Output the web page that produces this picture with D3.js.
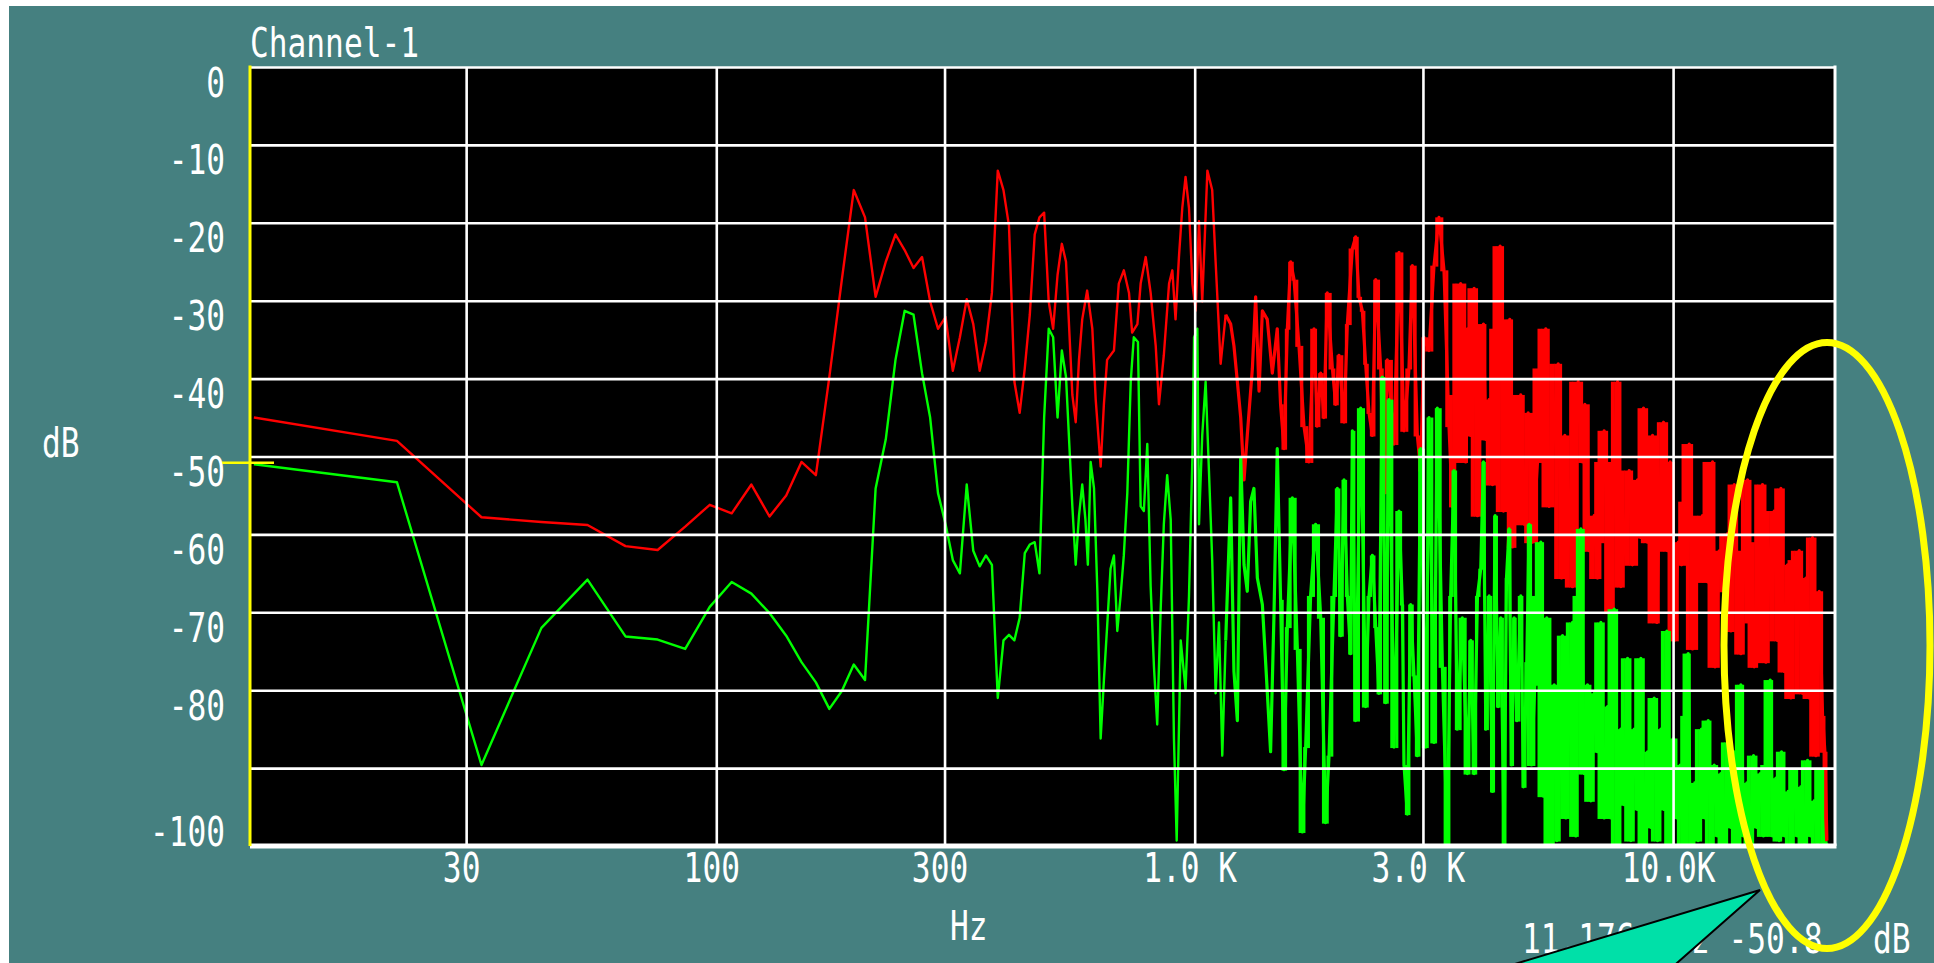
<!DOCTYPE html>
<html><head><meta charset="utf-8">
<script src="https://cdn.jsdelivr.net/npm/d3@7/dist/d3.min.js"></script>
<style>html,body{margin:0;padding:0;background:#fff;overflow:hidden}</style>
</head><body>
<svg id="c" width="1934" height="963"></svg>
<script>
// ---------- data ----------
const lowHz = [10.8,21.5,32.3,43.1,53.8,64.6,75.4,86.1,96.9,107.7,118.4,129.2,140.0,150.7,161.5,172.3,183.0,193.8,204.6,215.3,226.1,236.9,247.6,258.4,269.2,279.9,290.7,301.5,312.2,323.0,333.8,344.5,355.3,366.1,376.8,387.6,398.4,409.1,419.9,430.7,441.4,452.2,463.0,473.7,484.5,495.3,506.0,516.8,527.6,538.3];
const redLowDb = [-45.0,-48.0,-57.8,-58.4,-58.8,-61.5,-62.0,-59.0,-56.2,-57.3,-53.6,-57.7,-55.0,-50.7,-52.4,-39.8,-27.3,-15.8,-19.3,-29.5,-25.0,-21.5,-23.5,-25.8,-24.4,-30.1,-33.6,-32.1,-39.0,-34.7,-29.8,-33.0,-39.0,-35.3,-29.0,-13.3,-15.8,-20.4,-40.4,-44.4,-38.7,-31.8,-21.5,-19.3,-18.7,-30.1,-33.6,-26.7,-22.7,-25.0];
const greenLowDb = [-51.0,-53.3,-89.6,-72.0,-65.8,-73.1,-73.5,-74.7,-69.3,-66.1,-67.6,-70.1,-73.0,-76.4,-79.0,-82.4,-80.1,-76.7,-78.7,-54.1,-47.8,-37.6,-31.3,-31.8,-39.3,-45.0,-54.7,-58.7,-63.3,-65.0,-53.6,-62.1,-64.1,-62.7,-63.9,-81.0,-73.6,-72.9,-73.6,-70.7,-62.4,-61.3,-61.0,-65.0,-45.0,-33.6,-34.7,-45.0,-36.4,-39.8];

const redHiHz = [555,564,573,582,596,611,621,636,646,656,678,694,711,729,740,759,771,790,809,829,842,862,884,898,912,927,942,957,973,989,1005,1021,1037,1063,1088,1106,1133,1161,1189,1208,1228,1248,1268,1288,1320,1341,1363,1385,1418,1453,1488,1512,1537,1562,1587,1613,1652,1692,1733,1776,1804,1834,1863,1893,1940,1971,2003,2052,2085,2136,2170,2205,2241,2277,2314,2352,2390,2448,2487,2527,2610,2674,2739,2805,2851,2920,2967,3015,3089,3164,3241,3320,3401,3456,3512,3597,3685,
3716,3776,3838,3900,3963,4014,4060,4126,4193,4260,4350,4420,4491,4557,4616,4691,4805,4883,4978,5083,5207,5308,5420,5508,5642,5752,5845,5939,6064,6163,6333,6467,6540,6677,6840,6951,7063,7177,7294,7412,7532,7654,7777,7903,8096,8227,8427,8563,8674,8843,9058,9249,9353,9551,9736,9862,10054,10249,10415,10635,10806,10981,11249,11523,11803,12091,12228,12486,12790,12997,13207,13421,13638,13858,14082,14311,14543,14777,15016,15382,15631,15883,16270,16533,16801,17073,17349,17630,17915,18351,18648,18950,19256,19567,19884,20205,20533,20765,20966];
const redHiDb = [-42.1,-45.6,-37.6,-32.4,-28.7,-33.6,-42.7,-51.3,-43.3,-37.6,-36.4,-27.8,-26.1,-29.0,-34.1,-33.0,-27.8,-24.4,-29.0,-35.8,-43.3,-37.0,-27.8,-26.1,-32.4,-24.4,-18.1,-14.1,-18.1,-27.8,-31.3,-19.8,-30.1,-13.3,-15.8,-25.0,-38.1,-31.8,-33.0,-35.8,-40.4,-45.0,-53.0,-47.3,-38.7,-29.5,-41.6,-31.3,-32.4,-39.3,-33.6,-43.3,-49.0,-33.6,-25.0,-27.3,-35.8,-46.1,-50.7,-33.6,-46.1,-39.3,-45.0,-29.0,-38.7,-43.3,-37.0,-45.6,-33.0,-23.3,-21.8,-29.5,-31.3,-38.1,-44.4,-47.3,-27.3,-38.7,-54.7,-37.6,-48.4,-23.8,-46.7,-38.7,-25.5,-47.3,-51.8,-34.7,-36.4,-25.5,-19.3,-26.1,-46.1,-56.4,-42.1,-27.8,-50.7,
-33.6,-47.3,-28.4,-57.6,-39.3,-33.0,-47.8,-42.7,-53.6,-33.6,-23.0,-57.0,-35.3,-32.4,-61.6,-51.8,-42.1,-58.7,-44.4,-61.0,-50.7,-38.7,-33.6,-56.4,-46.1,-38.1,-65.6,-47.3,-56.4,-66.7,-40.4,-50.7,-43.3,-62.1,-57.6,-65.6,-50.7,-46.7,-61.0,-70.1,-50.7,-40.4,-66.7,-61.0,-51.8,-63.9,-53.0,-60.4,-43.8,-61.0,-47.3,-71.3,-56.4,-45.6,-62.1,-50.7,-73.6,-61.0,-63.9,-55.8,-48.4,-74.7,-59.9,-57.6,-66.1,-50.7,-77.0,-62.1,-67.3,-59.9,-72.4,-53.6,-66.1,-75.3,-62.1,-53.0,-71.3,-77.0,-61.0,-53.6,-76.4,-63.9,-57.0,-73.6,-54.1,-77.6,-63.9,-81.0,-63.3,-62.1,-80.4,-65.6,-81.0,-60.4,-88.4,-67.3,-83.3,-87.9,-99.3];

const greenHiHz = [555,564,573,582,591,598,606,616,626,636,646,656,667,678,689,700,711,723,735,746,761,771,783,796,809,822,835,849,862,876,891,905,917,935,957,973,989,997,1013,1021,1037,1054,1071,1088,1106,1124,1142,1161,1189,1208,1228,1248,1268,1288,1309,1330,1352,1385,1407,1441,1465,1488,1512,1537,1562,1600,1639,1679,1706,1747,1790,1834,1878,1909,1955,1987,2019,2052,2085,2118,2136,2170,2223,2277,2314,2352,2390,2428,2467,2507,2548,2610,2674,2717,2739,2783,2828,2874,2920,2967,3040,3089,3164,3215,3294,3374,3428,3484,3540,3626,3715,
3776,3838,3900,3963,4014,4060,4126,4193,4246,4308,4364,4435,4485,4542,4594,4653,4713,4805,4867,4945,5002,5058,5140,5207,5291,5359,5445,5552,5642,5715,5807,5873,5968,6064,6163,6262,6333,6415,6519,6624,6731,6840,6951,7063,7177,7294,7412,7532,7654,7777,7903,8031,8161,8293,8427,8563,8702,8843,8986,9131,9279,9429,9581,9705,9862,10022,10184,10349,10466,10635,10754,10859,11106,11285,11468,11653,11841,11994,12189,12386,12586,12790,12997,13207,13464,13638,13858,14037,14265,14496,14730,14968,15210,15456,15706,15960,16140,16401,16666,16855,17128,17405,17686,17915,18205,18499,18798,19102,19411,19725,20044,20304,20632,21033];
const greenHiDb = [-56.4,-63.9,-57.6,-53.6,-58.1,-63.9,-50.7,-54.1,-67.3,-86.2,-78.7,-71.9,-64.4,-62.7,-72.4,-67.9,-62.7,-54.7,-40.4,-34.7,-35.3,-56.4,-57.0,-48.4,-66.7,-77.0,-84.4,-69.6,-58.7,-52.4,-58.1,-86.2,-99.3,-73.6,-79.9,-67.9,-50.1,-34.7,-33.6,-58.7,-47.3,-40.4,-51.8,-63.3,-80.4,-71.3,-88.4,-73.6,-55.3,-77.6,-83.9,-50.1,-63.9,-67.3,-55.8,-54.1,-65.6,-69.0,-76.4,-87.9,-70.1,-49.0,-68.4,-90.2,-71.9,-55.3,-74.7,-98.2,-87.3,-67.9,-58.7,-70.7,-97.0,-88.4,-67.9,-54.1,-73.0,-53.0,-67.9,-75.3,-46.7,-83.9,-43.8,-82.1,-67.9,-62.7,-71.9,-80.4,-39.8,-81.6,-42.7,-87.3,-57.0,-69.0,-89.6,-95.9,-69.0,-78.1,-88.4,-49.0,-87.3,-45.0,-86.7,-43.8,-77.0,-99.9,-67.9,-51.8,-85.0,-70.7,-90.7,
-73.6,-90.7,-67.9,-64.4,-50.7,-85.0,-67.9,-93.0,-57.6,-82.1,-70.7,-99.9,-65.6,-59.3,-89.6,-70.7,-83.9,-67.9,-92.4,-76.4,-58.7,-89.6,-79.3,-67.9,-61.0,-93.6,-70.7,-99.9,-79.3,-99.3,-87.9,-73.0,-96.4,-82.1,-71.3,-98.7,-67.9,-59.3,-90.7,-79.3,-94.2,-80.4,-87.9,-71.3,-96.4,-82.1,-96.4,-69.6,-99.9,-85.0,-94.7,-75.9,-99.3,-85.0,-95.3,-75.9,-99.9,-87.9,-97.6,-81.0,-99.3,-85.0,-95.3,-72.4,-99.9,-86.2,-96.4,-89.6,-99.9,-83.3,-75.3,-99.9,-91.9,-99.3,-85.0,-96.4,-83.9,-99.9,-89.6,-98.7,-90.7,-99.9,-86.7,-97.6,-87.9,-99.9,-79.3,-98.7,-91.9,-99.9,-88.4,-97.6,-90.7,-98.7,-89.6,-78.7,-98.7,-91.3,-99.3,-87.9,-98.7,-93.0,-99.9,-90.2,-98.7,-92.4,-99.6,-89.0,-98.7,-94.2,-99.6,-90.2,-99.6,-99.6];

const xTickHz = [30,100,300,1000,3000,10000];
const xTickLabels = ["30","100","300","1.0 K","3.0 K","10.0K"];
const yGridDb = [0,-10,-20,-30,-40,-50,-60,-70,-80,-90];
const yLabelDb = [0,-10,-20,-30,-40,-50,-60,-70,-80,-100];
const cursorDb = -50.8;
const title = "Channel-1";
const readoutText = "11.176 kHz -50.8";

// ---------- layout ----------
const W = 1934, H = 963;
const L = 250, R = 1835, T = 67, B = 846;
const TEAL = "#458080";
const FONT = "'DejaVu Sans Mono', monospace";
const FS = 40, SX = 0.78;
const DENSE_FROM = 1150;   // Hz: thicker trace above this
// column-run fill: [fromHz, solidFromHz] – partial-width runs between, full-width (3-sample) runs above
const RED_RUNS = [1500, 3400];
const GREEN_RUNS = [1500, 4900];

const svg = d3.select("#c");
svg.append("rect").attr("width", W).attr("height", H).attr("fill", "#fff");
svg.append("rect").attr("x", 9).attr("y", 6).attr("width", W - 9).attr("height", H - 6).attr("fill", TEAL);

const x = d3.scaleLog().domain([10.6, 21800]).range([L, R]);
const y = d3.scaleLinear().domain([0, -100]).range([T, B]);
const yc = v => y(Math.max(-100, v));

svg.append("rect").attr("x", L).attr("y", T).attr("width", R - L).attr("height", B - T).attr("fill", "#000");

svg.append("defs").append("clipPath").attr("id", "pc")
  .append("rect").attr("x", L).attr("y", T - 1).attr("width", R - L).attr("height", B - T + 3);

function series(hzA, dbA, hz2, db2) {
  const a = hzA.map((h, i) => [h, dbA[i]]);
  const b = hz2.map((h, i) => [h, db2[i]]);
  return a.concat(b);
}
const redData = series(lowHz, redLowDb, redHiHz, redHiDb);
const greenData = series(lowHz, greenLowDb, greenHiHz, greenHiDb);

const line = d3.line().x(d => x(d[0])).y(d => yc(d[1]));
const dataG = svg.append("g").attr("clip-path", "url(#pc)");

function drawSeries(data, color, runs) {
  const segs = [];
  for (let i = 0; i < data.length - 1; i++) {
    const p = data[i], n = data[i + 1];
    if (p[0] < runs[0]) continue;
    const solid = p[0] >= runs[1];
    const vals = [p[1], n[1]];
    if (solid && data[i + 2]) vals.push(data[i + 2][1]);
    segs.push({ x0: x(p[0]), x1: x(n[0]), hi: d3.max(vals), lo: d3.min(vals), f: solid ? 1 : 0.5 });
  }
  dataG.append("g").selectAll("rect").data(segs).join("rect")
    .attr("x", s => s.x0 + (s.x1 - s.x0) * (1 - s.f) / 2)
    .attr("width", s => (s.x1 - s.x0) * s.f + 0.6)
    .attr("y", s => yc(s.hi))
    .attr("height", s => yc(s.lo) - yc(s.hi) + 1)
    .attr("fill", color);
  const idx = data.findIndex(d => d[0] >= DENSE_FROM);
  const a = data.slice(0, idx + 1), b = data.slice(idx);
  dataG.append("path").datum(a).attr("d", line)
    .attr("fill", "none").attr("stroke", color).attr("stroke-width", 2.4).attr("stroke-linejoin", "round");
  dataG.append("path").datum(b).attr("d", line)
    .attr("fill", "none").attr("stroke", color).attr("stroke-width", 3.2).attr("stroke-linejoin", "round");
}
drawSeries(redData, "#ff0000", RED_RUNS);
drawSeries(greenData, "#00ff00", GREEN_RUNS);

// gridlines via axes
const gy = svg.append("g").attr("transform", `translate(${L},0)`)
  .call(d3.axisLeft(y).tickValues(yGridDb).tickSize(-(R - L)).tickFormat(""));
gy.select(".domain").remove();
gy.selectAll("line").attr("stroke", "#fff").attr("stroke-width", 2.6);

const gx = svg.append("g").attr("transform", `translate(0,${B})`)
  .call(d3.axisBottom(x).tickValues(xTickHz).tickSize(-(B - T)).tickFormat(""));
gx.select(".domain").remove();
gx.selectAll("line").attr("stroke", "#fff").attr("stroke-width", 2.6);

// frame
svg.append("line").attr("x1", L).attr("x2", R + 1.5).attr("y1", B).attr("y2", B).attr("stroke", "#fff").attr("stroke-width", 5);
svg.append("line").attr("x1", R).attr("x2", R).attr("y1", T - 1.5).attr("y2", B).attr("stroke", "#fff").attr("stroke-width", 3);
svg.append("line").attr("x1", L).attr("x2", L).attr("y1", T - 1.5).attr("y2", B).attr("stroke", "#ffff00").attr("stroke-width", 3);

// cursor marker
svg.append("line").attr("x1", L - 29).attr("x2", L + 24).attr("y1", y(cursorDb)).attr("y2", y(cursorDb))
  .attr("stroke", "#ffff00").attr("stroke-width", 2.5);

// text helper
function txt(px, py, s, anchor) {
  return svg.append("text").attr("transform", `translate(${px},${py}) scale(${SX},1)`)
    .attr("text-anchor", anchor || "start").attr("font-family", FONT).attr("font-size", FS)
    .attr("fill", "#fff").text(s);
}

// y labels via axis
const ya = svg.append("g").attr("transform", `translate(${L},0)`)
  .call(d3.axisLeft(y).tickValues(yLabelDb).tickSize(0).tickFormat(d => String(d)));
ya.select(".domain").remove();
ya.selectAll("text")
  .attr("x", null).attr("dy", null)
  .attr("transform", d => `translate(-25,${d === -100 ? -1 : 29}) scale(${SX},1)`)
  .attr("text-anchor", "end").attr("font-family", FONT).attr("font-size", FS).attr("fill", "#fff");

// x labels via axis
const xa = svg.append("g").attr("transform", `translate(0,${B})`)
  .call(d3.axisBottom(x).tickValues(xTickHz).tickSize(0).tickFormat((d, i) => xTickLabels[i]));
xa.select(".domain").remove();
xa.selectAll("text")
  .attr("y", null).attr("dy", null)
  .attr("transform", `translate(-5,36) scale(${SX},1)`)
  .attr("text-anchor", "middle").attr("font-family", FONT).attr("font-size", FS).attr("fill", "#fff");

txt(L, 57, title);
txt(42, 457, "dB");
txt(950, 940, "Hz");

// readout + callout
txt(1522, 953, readoutText);
txt(1873, 953, "dB");
svg.append("polygon").attr("points", "1760,890 1495,970 1669,970")
  .attr("fill", "#00e0a8").attr("stroke", "#000").attr("stroke-width", 2).attr("stroke-linejoin", "miter");

// highlight ellipse
svg.append("ellipse").attr("cx", 1827).attr("cy", 645.5).attr("rx", 103).attr("ry", 303)
  .attr("fill", "none").attr("stroke", "#ffff00").attr("stroke-width", 7);
</script>
</body></html>
